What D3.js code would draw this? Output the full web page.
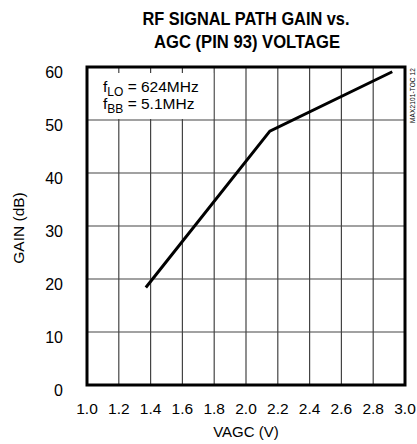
<!DOCTYPE html>
<html>
<head>
<meta charset="utf-8">
<script src="https://cdn.jsdelivr.net/npm/d3@7"></script>
<style>
  body { margin: 0; background: #fff; }
  svg text { font-family: "Liberation Sans", Arial, sans-serif; fill: #000; }
</style>
</head>
<body>
<div id="chart"></div>
<script>
// values
var vagc = [1.37, 2.15, 2.92];
var gain = [18.4, 47.9, 59.1];
var xTicks = [1.0, 1.2, 1.4, 1.6, 1.8, 2.0, 2.2, 2.4, 2.6, 2.8, 3.0];
var yTicks = [0, 10, 20, 30, 40, 50, 60];

var W = 417, H = 444;
var margin = {left: 87, right: 12, top: 67, bottom: 59};
var w = W - margin.left - margin.right,
    h = H - margin.top - margin.bottom;

var svg = d3.select("#chart").append("svg")
    .attr("width", W).attr("height", H);

var x = d3.scaleLinear().domain([1, 3]).range([0, w]);
var y = d3.scaleLinear().domain([0, 60]).range([h, 0]);

// title
svg.append("text").attr("x", 246).attr("y", 25).attr("text-anchor", "middle")
  .attr("font-size", 18).attr("font-weight", "bold").attr("textLength", 207)
  .attr("lengthAdjust", "spacingAndGlyphs").text("RF SIGNAL PATH GAIN vs.");
svg.append("text").attr("x", 247).attr("y", 48).attr("text-anchor", "middle")
  .attr("font-size", 18).attr("font-weight", "bold").attr("textLength", 186)
  .attr("lengthAdjust", "spacingAndGlyphs").text("AGC (PIN 93) VOLTAGE");

var g = svg.append("g").attr("transform", "translate(" + margin.left + "," + margin.top + ")");

// grid
g.selectAll(".vg").data(xTicks.slice(1, -1)).enter().append("line")
  .attr("x1", function(d) { return x(d); }).attr("x2", function(d) { return x(d); })
  .attr("y1", 0).attr("y2", h).attr("stroke", "#444").attr("stroke-width", 1.2);
g.selectAll(".hg").data(yTicks.slice(1, -1)).enter().append("line")
  .attr("y1", function(d) { return y(d); }).attr("y2", function(d) { return y(d); })
  .attr("x1", 0).attr("x2", w).attr("stroke", "#444").attr("stroke-width", 1.2);

// legend box hides the grid, leaving short stubs at the top
g.append("rect").attr("x", 1).attr("y", 6).attr("width", x(1.8) - 2).attr("height", y(50) - 7)
  .attr("fill", "#fff");

var leg = g.append("text").attr("x", 16).attr("y", 25).attr("font-size", 15.5);
leg.append("tspan").text("f");
leg.append("tspan").attr("font-size", 12).attr("dy", 4).text("LO");
leg.append("tspan").attr("dy", -4).text(" = 624MHz");
var leg2 = g.append("text").attr("x", 16).attr("y", 42).attr("font-size", 15.5);
leg2.append("tspan").text("f");
leg2.append("tspan").attr("font-size", 12).attr("dy", 4).text("BB");
leg2.append("tspan").attr("dy", -4).text(" = 5.1MHz");

// frame
g.append("rect").attr("x", 0).attr("y", 0).attr("width", w).attr("height", h)
  .attr("fill", "none").attr("stroke", "#000").attr("stroke-width", 3);

// curve
var pts = vagc.map(function(v, i) { return [v, gain[i]]; });
g.append("path").datum(pts)
  .attr("fill", "none").attr("stroke", "#000").attr("stroke-width", 3)
  .attr("d", d3.line().x(function(d) { return x(d[0]); }).y(function(d) { return y(d[1]); }));

// tick labels
g.selectAll(".xl").data(xTicks).enter().append("text")
  .attr("x", function(d) { return x(d); }).attr("y", h + 29)
  .attr("text-anchor", "middle").attr("font-size", 15.5)
  .text(function(d) { return d.toFixed(1); });
g.selectAll(".yl").data(yTicks).enter().append("text")
  .attr("x", -24).attr("y", function(d) { return y(d) + 10.5; })
  .attr("text-anchor", "end").attr("font-size", 16)
  .text(function(d) { return d; });

// axis titles
svg.append("text").attr("x", margin.left + w / 2).attr("y", 437)
  .attr("text-anchor", "middle").attr("font-size", 15).text("VAGC (V)");
svg.append("text").attr("transform", "translate(24,228) rotate(-90)")
  .attr("text-anchor", "middle").attr("font-size", 15.5).text("GAIN (dB)");

// part number note
svg.append("text").attr("transform", "translate(415,123) rotate(-90)")
  .attr("font-size", 6.5).attr("fill", "#333").attr("textLength", 55)
  .text("MAX2101-TOC 12");
</script>
</body>
</html>
